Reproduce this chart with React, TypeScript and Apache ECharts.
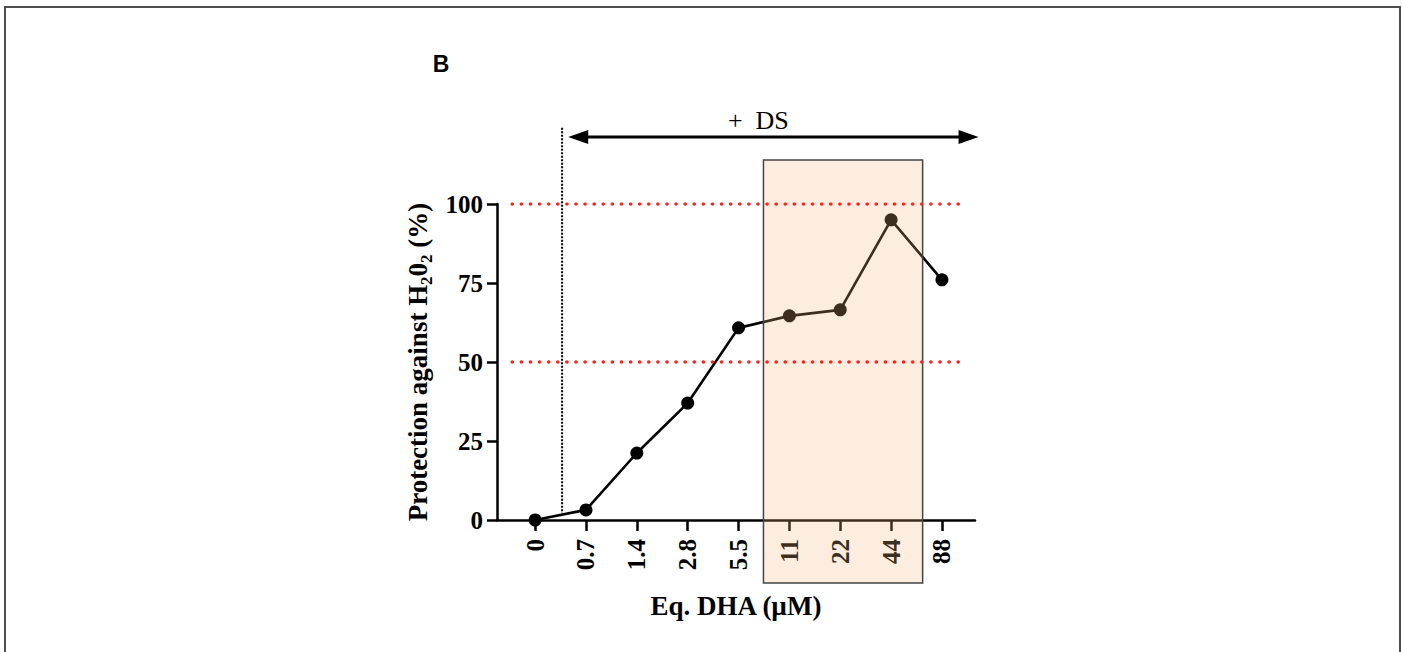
import React, { useEffect, useRef } from "react";
import * as echarts from "echarts";

// ---- data ----
const categories = ["0", "0.7", "1.4", "2.8", "5.5", "11", "22", "44", "88"];
const protection = [0, 3.2, 21.2, 37, 60.8, 64.6, 66.5, 95, 76];
const yTickValues = [0, 25, 50, 75, 100];
const thresholds = [100, 50];
const panelLabel = "B";
const dsLabel = "+  DS";

const SERIF = "'Liberation Serif', 'Times New Roman', serif";

export default function App() {
  const ref = useRef<HTMLDivElement>(null);

  useEffect(() => {
    if (!ref.current) return;
    const chart = echarts.init(ref.current, null, { renderer: "svg" });
    const idx = categories.map((_, i) => i);

    const labelStyle = {
      fontFamily: SERIF,
      fontWeight: "bold" as const,
      fontSize: 25,
      color: "#000",
    };
    const titleStyle = { ...labelStyle, fontSize: 27 };

    chart.setOption({
      animation: false,
      grid: { left: 497, right: 428, top: 204, bottom: 132, containLabel: false },
      xAxis: {
        type: "value",
        min: -0.75,
        max: 8.65,
        axisLine: { show: true, onZero: false, lineStyle: { color: "#000", width: 2.5 } },
        axisTick: {
          show: true,
          customValues: idx,
          length: 11,
          lineStyle: { color: "#000", width: 2.5 },
        },
        axisLabel: {
          customValues: idx,
          rotate: 90,
          margin: 19,
          formatter: (v: number) => categories[Math.round(v)] ?? "",
          ...labelStyle,
        },
        splitLine: { show: false },
        name: "Eq. DHA (µM)",
        nameLocation: "middle",
        nameGap: 72,
        nameTextStyle: { ...titleStyle },
      },
      yAxis: {
        type: "value",
        min: 0,
        max: 100,
        interval: 25,
        axisLine: { show: true, onZero: false, lineStyle: { color: "#000", width: 2.5 } },
        axisTick: { show: true, customValues: yTickValues, length: 10, lineStyle: { color: "#000", width: 2.5 } },
        axisLabel: { margin: 14, ...labelStyle },
        splitLine: { show: false },
        name: "Protection against H{s|2}0{s|2} (%)",
        nameLocation: "middle",
        nameRotate: 90,
        nameGap: 66,
        nameTextStyle: {
          ...titleStyle,
          rich: {
            s: {
              fontFamily: SERIF,
              fontWeight: "bold",
              fontSize: 17,
              color: "#000",
              verticalAlign: "bottom",
              padding: [0, 0, -4, 0],
            },
          },
        },
      },
      series: [
        {
          type: "line",
          data: idx.map((i) => [i, protection[i]]),
          symbol: "circle",
          symbolSize: 13,
          itemStyle: { color: "#000" },
          lineStyle: { color: "#000", width: 2.6 },
          z: 2,
          clip: false,
        },
        ...thresholds.map((t) => ({
          type: "line",
          data: [
            [-0.45, t],
            [8.4, t],
          ],
          symbol: "none",
          silent: true,
          z: 20,
          lineStyle: { color: "#ff2020", width: 3.6, type: [0.1, 9], cap: "round" },
        })),
      ],
    });

    const p = (x: number, y: number) => chart.convertToPixel({ gridIndex: 0 }, [x, y]) as number[];

    // highlighted range box
    const b1 = p(4.49, 113.9);
    const b2 = p(7.62, -19.9);
    // DS arrow
    const aL = p(0.65, 121.2);
    const aR = p(8.72, 121.2);
    const head = 20;
    const hw = 7;
    // vertical dotted line
    const v1 = p(0.53, 124.1);
    const v2 = p(0.53, 2.2);
    // DS text
    const t = p(4.39, 126.3);

    chart.setOption({
      graphic: [
        {
          type: "rect",
          z: 0,
          silent: true,
          shape: { x: 5, y: 7, width: 1395, height: 700 },
          style: { fill: "none", stroke: "#4d4d4d", lineWidth: 2 },
        },
        {
          type: "text",
          z: 30,
          x: 441,
          y: 64,
          style: {
            text: panelLabel,
            font: "bold 23px 'Liberation Sans', Arial, sans-serif",
            fill: "#000",
            align: "center",
            verticalAlign: "middle",
          },
        },
        {
          type: "rect",
          z: 10,
          silent: true,
          shape: { x: b1[0], y: b1[1], width: b2[0] - b1[0], height: b2[1] - b1[1] },
          style: { fill: "rgba(244,184,128,0.25)", stroke: "#444", lineWidth: 1.5 },
        },
        {
          type: "line",
          z: 30,
          shape: { x1: v1[0], y1: v1[1], x2: v2[0], y2: v2[1] },
          style: { stroke: "#000", lineWidth: 2, lineDash: [2, 1.5] },
        },
        {
          type: "line",
          z: 30,
          shape: { x1: aL[0] + head - 2, y1: aL[1], x2: aR[0] - head + 2, y2: aR[1] },
          style: { stroke: "#000", lineWidth: 3 },
        },
        {
          type: "polygon",
          z: 30,
          shape: {
            points: [
              [aL[0], aL[1]],
              [aL[0] + head, aL[1] - hw],
              [aL[0] + head, aL[1] + hw],
            ],
          },
          style: { fill: "#000" },
        },
        {
          type: "polygon",
          z: 30,
          shape: {
            points: [
              [aR[0], aR[1]],
              [aR[0] - head, aR[1] - hw],
              [aR[0] - head, aR[1] + hw],
            ],
          },
          style: { fill: "#000" },
        },
        {
          type: "text",
          z: 30,
          x: t[0],
          y: t[1],
          style: {
            text: dsLabel,
            font: `26px ${SERIF}`,
            fill: "#000",
            align: "center",
            verticalAlign: "middle",
          },
        },
      ],
    });

    return () => chart.dispose();
  }, []);

  return (
    <div
      ref={ref}
      style={{ position: "absolute", left: 0, top: 0, width: 1403, height: 652, background: "#fff" }}
    />
  );
}
